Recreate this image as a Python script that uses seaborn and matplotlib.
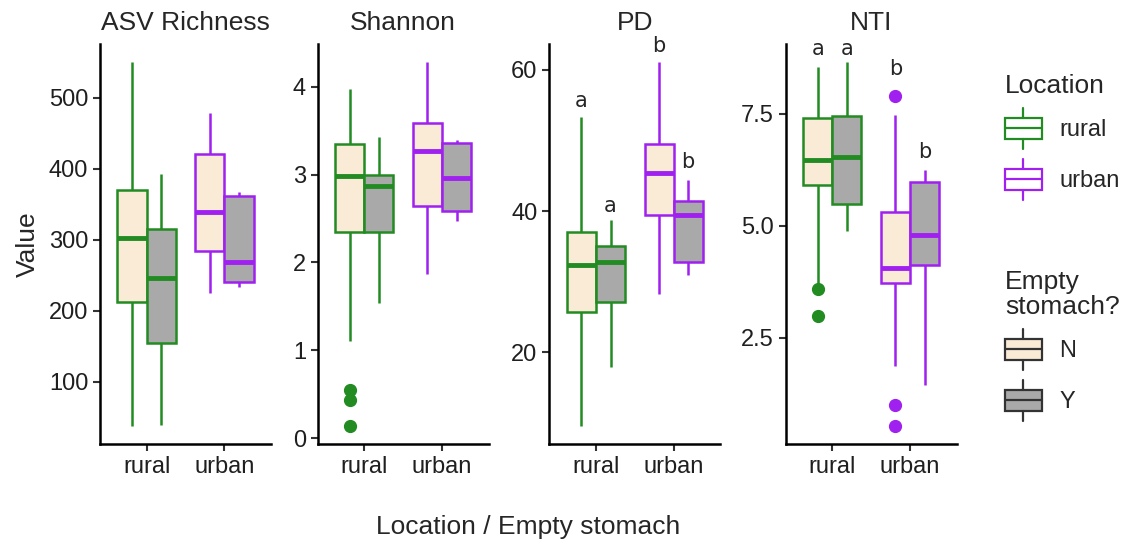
import matplotlib
matplotlib.use("Agg")
import matplotlib.pyplot as plt
import numpy as np
import pandas as pd
import seaborn as sns
from matplotlib.legend_handler import HandlerBase
from matplotlib.patches import Patch, Rectangle
from matplotlib.lines import Line2D
from matplotlib.ticker import MultipleLocator, FormatStrFormatter

# ==== Data ==== #
metrics = ["ASV Richness", "Shannon", "PD", "NTI"]
locations = ["rural", "urban"]
stomach = ["N", "Y"]
groups = [("rural", "N"), ("rural", "Y"), ("urban", "N"), ("urban", "Y")]

# box summaries per group: lower whisker, Q1, median, Q3, upper whisker
richness_box = [[38, 212, 302, 370, 550],
                [39, 154, 246, 315, 393],
                [225, 284, 339, 421, 479],
                [234, 240, 269, 361, 367]]
richness_out = [[], [], [], []]

shannon_box = [[1.10, 2.35, 2.98, 3.35, 3.98],
               [1.54, 2.35, 2.87, 2.99, 3.43],
               [1.87, 2.64, 3.27, 3.59, 4.28],
               [2.47, 2.59, 2.96, 3.36, 3.39]]
shannon_out = [[0.55, 0.43, 0.14], [], [], []]

pd_box = [[9.6, 25.7, 32.4, 37.0, 53.3],
          [17.9, 27.1, 32.8, 35.0, 38.8],
          [28.2, 39.5, 45.4, 49.5, 61.1],
          [30.9, 32.8, 39.4, 41.4, 44.4]]
pd_out = [[], [], [], []]

nti_box = [[3.66, 5.90, 6.47, 7.40, 8.54],
           [4.87, 5.48, 6.53, 7.44, 8.65],
           [1.86, 3.72, 4.06, 5.31, 7.48],
           [1.45, 4.11, 4.80, 5.97, 6.25]]
nti_out = [[3.59, 2.98], [], [7.89, 0.99, 0.53], []]

# significance letters (PD and NTI panels)
pd_letters = ["a", "a", "b", "b"]
pd_letter_y = [55.6, 40.7, 63.4, 47.0]
nti_letters = ["a", "a", "b", "b"]
nti_letter_y = [8.94, 8.94, 8.50, 6.64]

tick_steps = [100, 1, 20, 2.5]

line_colors = ["#228B22", "#A020F0"]
fill_colors = ["#FAEBD7", "#A9A9A9"]


def box_points(stats, outliers):
    # 17 points whose quartiles / whiskers reproduce the summary
    lo, q1, med, q3, hi = stats
    low = sorted(v for v in outliers if v < q1) + [lo]
    high = [hi] + sorted(v for v in outliers if v > q3)
    return (low + [q1] * (5 - len(low)) + [med] * 4 + [q3] * 4
            + [q3] * (4 - len(high)) + high)


rows = []
for m, boxes, outs in zip(metrics,
                          [richness_box, shannon_box, pd_box, nti_box],
                          [richness_out, shannon_out, pd_out, nti_out]):
    for (loc, emp), st, ou in zip(groups, boxes, outs):
        for v in box_points(st, ou):
            rows.append({"metric": m, "Location": loc, "Empty": emp, "Value": v})
df = pd.DataFrame(rows)

letters = {"PD": (pd_letters, pd_letter_y), "NTI": (nti_letters, nti_letter_y)}


# legend key drawn like a small boxplot
class BoxKey(HandlerBase):
    def create_artists(self, legend, orig_handle, xdescent, ydescent,
                       width, height, fontsize, trans):
        fc = orig_handle.get_facecolor()
        ec = orig_handle.get_edgecolor()
        x0, y0 = -xdescent, -ydescent
        xm = x0 + width / 2
        lw = 1.6
        box = Rectangle((x0, y0 + 0.24 * height), width, 0.52 * height,
                        facecolor=fc, edgecolor=ec, lw=lw, transform=trans)
        mid = Line2D([x0, x0 + width], [y0 + 0.5 * height] * 2, color=ec,
                     lw=lw, transform=trans)
        top = Line2D([xm, xm], [y0 + 0.76 * height, y0 + height], color=ec,
                     lw=lw, transform=trans)
        bot = Line2D([xm, xm], [y0, y0 + 0.24 * height], color=ec,
                     lw=lw, transform=trans)
        return [box, mid, top, bot]


sns.set_style("ticks")
plt.rcParams["font.family"] = ["Liberation Sans", "DejaVu Sans"]

W, H = 1126, 545
fig = plt.figure(figsize=(W / 100, H / 100), dpi=100)
lefts = [100, 317.7, 549.3, 785.7]
width = 0.75

for left, m, step in zip(lefts, metrics, tick_steps):
    ax = fig.add_axes([left / W, 101 / H, 171 / W, 400 / H])
    sub = df[df.metric == m]
    for loc, col in zip(locations, line_colors):
        sns.boxplot(data=sub[sub.Location == loc], x="Location", y="Value",
                    hue="Empty", order=locations, hue_order=stomach,
                    palette=fill_colors, saturation=1, linecolor=col,
                    linewidth=1.8, width=width, gap=0, dodge=True,
                    showcaps=False, legend=False, ax=ax,
                    flierprops=dict(marker="o", markerfacecolor=col,
                                    markeredgecolor=col, markersize=8.5),
                    medianprops=dict(linewidth=3.5, color=col))
    ax.set_xlim(-0.6, 1.6)
    ax.set_xlabel("")
    ax.set_ylabel("")
    ax.set_title(m, fontsize=19, pad=10)
    sns.despine(ax=ax)
    for s in ["left", "bottom"]:
        ax.spines[s].set_linewidth(1.8)
        ax.spines[s].set_color("black")
    ax.yaxis.set_major_locator(MultipleLocator(step))
    if m == "NTI":
        ax.yaxis.set_major_formatter(FormatStrFormatter("%.1f"))
    ax.tick_params(labelsize=17, labelcolor="#1f1f1f", color="#333333",
                   length=5, width=1.5)
    if m in letters:
        labs, ys = letters[m]
        for (loc, emp), t, y in zip(groups, labs, ys):
            x = locations.index(loc) + (stomach.index(emp) - 0.5) * width / 2
            ax.text(x, y, t, ha="center", va="center", fontsize=15,
                    family="DejaVu Sans")

fig.text(28 / W, 1 - 244 / H, "Value", rotation=90, ha="center", va="center",
         fontsize=19)
fig.text(528 / W, 1 - 527 / H, "Location / Empty stomach", ha="center",
         va="center", fontsize=19)

leg_kw = dict(loc="upper left", frameon=False, handler_map={Patch: BoxKey()},
              fontsize=17, title_fontsize=19, handlelength=1.55,
              handleheight=2.3, labelspacing=0.42, handletextpad=0.75,
              alignment="left", borderaxespad=0, borderpad=0)
leg1 = fig.legend(handles=[Patch(facecolor="white", edgecolor=c) for c in line_colors],
                  labels=locations, title="Location",
                  bbox_to_anchor=(1005 / W, 1 - 74 / H), **leg_kw)
leg2 = fig.legend(handles=[Patch(facecolor=c, edgecolor="#333333") for c in fill_colors],
                  labels=stomach, title="Empty\nstomach?",
                  bbox_to_anchor=(1005 / W, 1 - 270 / H), **leg_kw)
leg2.get_title().set_linespacing(1.05)

fig.savefig("out.png", dpi=100)
